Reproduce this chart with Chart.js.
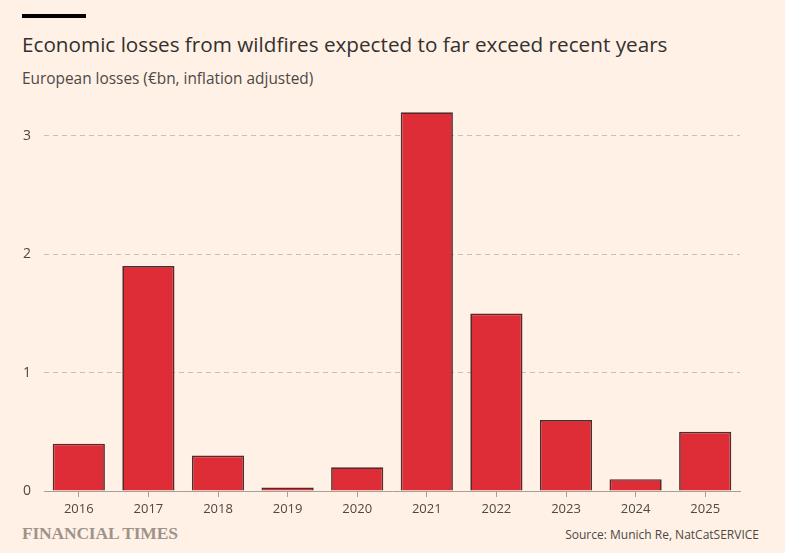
<!DOCTYPE html>
<html>
<head>
<meta charset="utf-8">
<script src="https://cdn.jsdelivr.net/npm/chart.js@4.4.1/dist/chart.umd.min.js"></script>
<style>
  html, body { margin: 0; padding: 0; background: #fff1e5; }
  body { width: 785px; height: 553px; position: relative; overflow: hidden; font-family: "Open Sans", sans-serif; color: #33302e; }
  .bar-top { position: absolute; left: 22px; top: 14px; width: 64px; height: 4px; background: #000; }
  h1 { position: absolute; left: 22px; top: 30px; margin: 0; font-size: 20.7px; font-weight: 400; color: #33302e; white-space: nowrap; }
  .sub { position: absolute; left: 22px; top: 68px; margin: 0; font-size: 15.4px; color: #4d4845; white-space: nowrap; }
  #wrap { position: absolute; left: 0; top: 79px; width: 785px; height: 442px; }
  .ft { position: absolute; left: 22px; top: 523px; font-family: "Liberation Serif", serif; font-weight: 700; font-size: 17.5px; color: #9e938b; letter-spacing: -0.2px; }
  .src { position: absolute; right: 26px; top: 526px; font-size: 12px; color: #4d4845; }
</style>
</head>
<body>
<div class="bar-top"></div>
<h1>Economic losses from wildfires expected to far exceed recent years</h1>
<p class="sub">European losses (€bn, inflation adjusted)</p>
<div id="wrap"><canvas id="c"></canvas></div>
<div class="ft">FINANCIAL TIMES</div>
<div class="src">Source: Munich Re, NatCatSERVICE</div>
<script>
  // ── Data ────────────────────────────────────────────────
  const years = ['2016', '2017', '2018', '2019', '2020', '2021', '2022', '2023', '2024', '2025'];
  const losses = [0.4, 1.9, 0.3, 0.03, 0.2, 3.2, 1.5, 0.6, 0.1, 0.5];
  const yTicks = [0, 1, 2, 3];

  const muted = '#4d4845';

  new Chart(document.getElementById('c'), {
    type: 'bar',
    data: {
      labels: years,
      datasets: [{
        data: losses,
        backgroundColor: '#de2d36',
        borderColor: '#552a2a',
        borderWidth: 1.7,
        borderSkipped: 'bottom',
        barPercentage: 0.75,
        categoryPercentage: 1
      }]
    },
    options: {
      responsive: true,
      maintainAspectRatio: false,
      animation: false,
      layout: { padding: { top: 9.5, right: 45, left: 0, bottom: 0 } },
      plugins: { legend: { display: false }, tooltip: { enabled: false } },
      scales: {
        x: {
          afterFit: s => { s.height = 30; },
          grid: { offset: false, drawOnChartArea: false, tickLength: 6, color: '#a89e95' },
          border: { display: true, color: '#a89e95', width: 1 },
          ticks: { color: muted, font: { family: 'Open Sans', size: 13 }, padding: 4 }
        },
        y: {
          min: 0,
          max: 3.3,
          afterFit: s => { s.width = 44; },
          afterBuildTicks: s => { s.ticks = yTicks.map(v => ({ value: v })); },
          grid: {
            drawTicks: false,
            color: c => c.tick && c.tick.value === 0 ? 'rgba(0,0,0,0)' : '#c9bfb6',
            lineWidth: 1
          },
          border: { display: false, dash: [5, 4] },
          ticks: { color: muted, font: { family: 'Open Sans', size: 14 }, padding: 13 }
        }
      }
    }
  });
</script>
</body>
</html>
